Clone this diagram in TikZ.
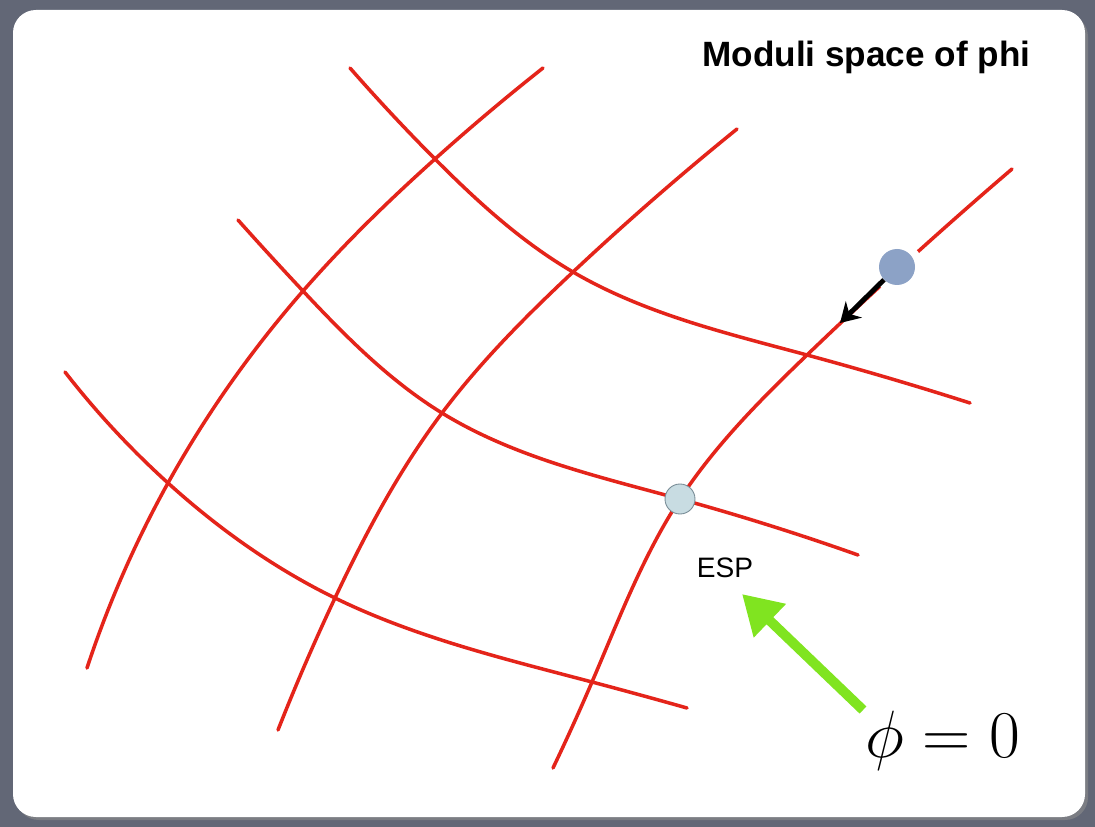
\documentclass[tikz,border=0pt]{standalone}
\usepackage{fontspec}
\setmainfont{Liberation Sans}
\usetikzlibrary{arrows.meta,hobby}
\definecolor{bggray}{RGB}{98,103,118}
\definecolor{gridred}{RGB}{228,36,26}
\definecolor{espfill}{RGB}{200,220,226}
\definecolor{espline}{RGB}{120,140,150}
\definecolor{startfill}{RGB}{140,162,198}
\definecolor{limegreen}{RGB}{128,228,32}
\begin{document}
\begin{tikzpicture}[x=0.02cm,y=-0.02cm,
  gridline/.style={draw=gridred,line width=2pt,line cap=round,use Hobby shortcut},
  dotnode/.style={circle,inner sep=0pt},
  labeltext/.style={inner sep=0pt,text=black}]
\fill[bggray] (0,0) rectangle (1095,827);
\useasboundingbox (0,0) rectangle (1095,827);
\fill[black!45,opacity=0.6] (16,14) [rounded corners=13pt] rectangle (1088,820);
\fill[white] (13,10) [rounded corners=13pt] rectangle (1085,817);
% grid coordinates
\coordinate (v1s) at (87,668);
\coordinate (v1e) at (543,68);
\coordinate (v2s) at (278,730);
\coordinate (v2e) at (737,129);
\coordinate (v3s) at (553,768);
\coordinate (v3e) at (1012,169);
\coordinate (h1s) at (65,372);
\coordinate (h1e) at (687,708);
\coordinate (h2s) at (238,220);
\coordinate (h2e) at (858,555);
\coordinate (h3s) at (350,68);
\coordinate (h3e) at (970,403);
\coordinate (x11) at (168,483);
\coordinate (x12) at (303,291);
\coordinate (x13) at (435,159);
\coordinate (x21) at (335,598);
\coordinate (x22) at (442,413);
\coordinate (x23) at (573,272);
\coordinate (x31) at (592,682);
\coordinate (x32) at (680,499);
\coordinate (x33) at (807,355);
% vertical-ish lines
\draw[gridline] (v1s) .. (x11) .. (x12) .. (x13) .. (v1e);
\draw[gridline] (v2s) .. (x21) .. (x22) .. (x23) .. (v2e);
\draw[gridline] (v3s) .. (x31) .. (x32) .. (x33) .. (v3e);
% horizontal-ish lines
\draw[gridline] (h1s) .. (x11) .. (x21) .. (x31) .. (h1e);
\draw[gridline] (h2s) .. (x12) .. (x22) .. (x32) .. (h2e);
\draw[gridline] (h3s) .. (x13) .. (x23) .. (x33) .. (h3e);
% dots
\node[dotnode,fill=white,minimum size=52*0.02cm] (startbg) at (897,267) {};
\node[dotnode,fill=startfill,minimum size=36*0.02cm] (start) at (897,267) {};
\coordinate (arrowtip) at (840,323);
\draw[line width=2.8pt,-{Stealth[length=11pt,width=13pt]}] (start) -- (arrowtip);
\node[dotnode,fill=espfill,draw=espline,line width=0.5pt,minimum size=30*0.02cm] (esp) at (x32) {};
% labels
\node[labeltext,font=\fontsize{16}{18}\selectfont] (esplabel) at (725,568) {ESP};
\node[labeltext,anchor=base west,scale=1.53,font=\fontsize{24.88}{30}\selectfont] (phizero) at (865,757) {$\phi = 0$};
\coordinate (greentail) at (863,710);
\coordinate (greentip) at (742,594);
\draw[limegreen,line width=5.6pt,-{Triangle[length=22pt,width=25pt]}] (greentail) -- (greentip);
\node[labeltext,anchor=base west,font=\bfseries\fontsize{20}{24}\selectfont] (title) at (702,67) {Moduli space of phi};
\end{tikzpicture}
\end{document}
